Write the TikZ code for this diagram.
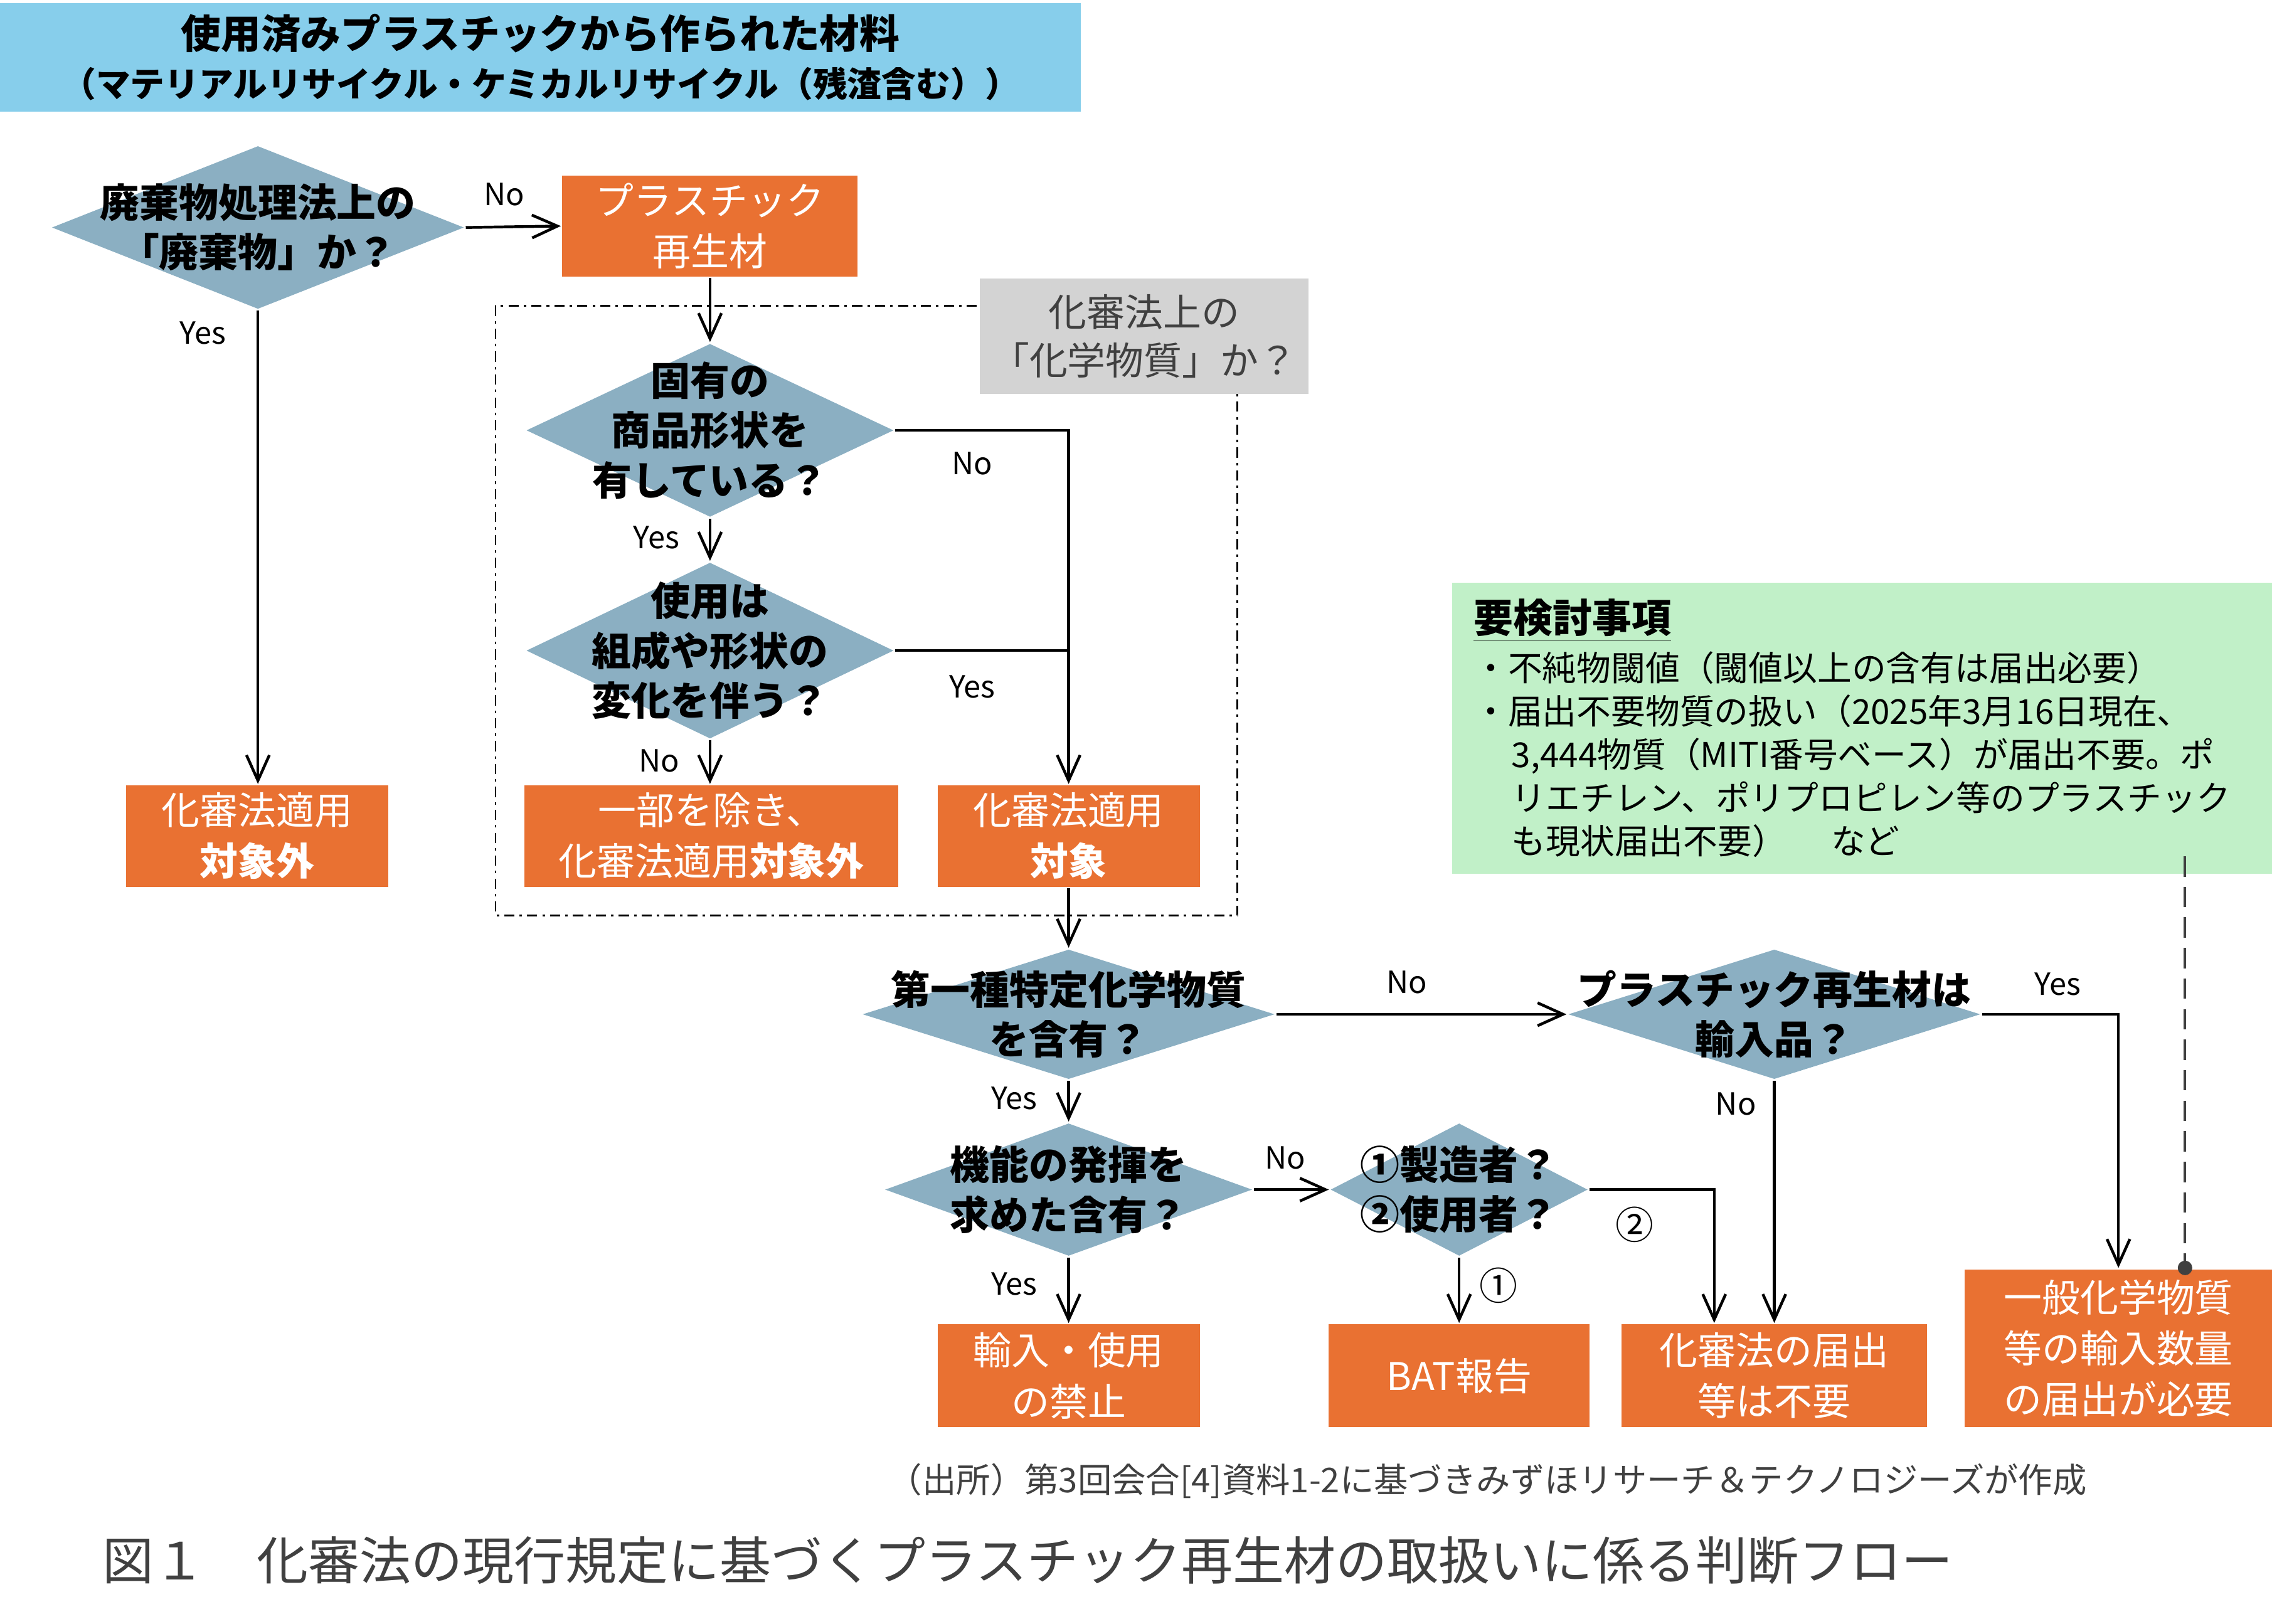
\documentclass[tikz,border=0pt]{standalone}
\usepackage{fontspec}
\setmainfont{Noto Sans CJK JP}
\usepackage{tikz}
\usetikzlibrary{shapes.geometric,arrows.meta}
\definecolor{hdrblue}{RGB}{135,206,235}
\definecolor{qblue}{RGB}{139,175,194}
\definecolor{ansorange}{RGB}{233,113,50}
\definecolor{qgray}{RGB}{211,211,211}
\definecolor{notegreen}{RGB}{193,240,200}
\definecolor{capgray}{RGB}{64,64,64}
\tikzset{
	qnode/.style = {diamond, fill=qblue, inner sep=0pt},% question
	qtext/.style = {align=center, inner sep=0pt, text=black,
		font=\bfseries\fontsize{15.5}{19.5}\selectfont},
	ans/.style = {rectangle, fill=ansorange, text=white, align=center,
		inner sep=0pt, font=\fontsize{15}{20}\selectfont},% resultat
	yn/.style = {inner sep=0pt, font=\fontsize{12}{14}\selectfont},% Yes / No
	frame/.style = {line width=0.7pt, dash pattern=on 4pt off 2pt on 1pt off 2pt}
}
\begin{document}
\begin{tikzpicture}[x=0.02cm, y=-0.02cm, line width=1.1pt,
	>={Straight Barb[length=10pt,width=9pt]}]
\useasboundingbox (0,0) rectangle (1568,1120.8);

\node [fill=hdrblue, minimum width=14.92cm, minimum height=1.5cm, align=center,
	inner sep=0pt, font=\bfseries\fontsize{15.7}{18}\selectfont] (hdr) at (373,39.5)
	{使用済みプラスチックから作られた材料\\[1pt]
	\fontsize{13.5}{16}\selectfont （マテリアルリサイクル・ケミカルリサイクル（残渣含む））};

\draw [frame] (342,211) rectangle (854,632);
\node [fill=qgray, minimum width=4.54cm, minimum height=1.6cm, align=center,
	inner sep=0pt, text=black!75, font=\fontsize{15}{19}\selectfont] (kagaku) at (789.5,232)
	{化審法上の\\「化学物質」か？};

\node [qnode, minimum width=5.7cm, minimum height=2.26cm,
	label={[qtext]center:廃棄物処理法上の\\「廃棄物」か？}] (d1) at (178,157) {};
\node [qnode, minimum width=5.08cm, minimum height=2.4cm,
	label={[qtext]center:固有の\\商品形状を\\有している？}] (d2) at (490,297) {};
\node [qnode, minimum width=5.08cm, minimum height=2.44cm,
	label={[qtext]center:使用は\\組成や形状の\\変化を伴う？}] (d3) at (490,449) {};
\node [qnode, minimum width=5.7cm, minimum height=1.8cm,
	label={[qtext]center:第一種特定化学物質\\を含有？}] (d4) at (737.5,700) {};
\node [qnode, minimum width=5.7cm, minimum height=1.8cm,
	label={[qtext]center:プラスチック再生材は\\輸入品？}] (d5) at (1224.5,700) {};
\node [qnode, minimum width=5.08cm, minimum height=1.84cm,
	label={[qtext]center:機能の発揮を\\求めた含有？}] (d6) at (737.5,821) {};
\node [qnode, minimum width=3.56cm, minimum height=1.84cm,
	label={[qtext]center:①製造者？\\②使用者？}] (d7) at (1007,821) {};

\node [ans, minimum width=4.08cm, minimum height=1.4cm] (b1) at (490,156) {プラスチック\\再生材};
\node [ans, minimum width=3.62cm, minimum height=1.4cm] (b2) at (177.5,577) {化審法適用\\\textbf{対象外}};
\node [ans, minimum width=5.16cm, minimum height=1.4cm] (b3) at (491,577) {一部を除き、\\化審法適用\textbf{対象外}};
\node [ans, minimum width=3.62cm, minimum height=1.4cm] (b4) at (737.5,577) {化審法適用\\\textbf{対象}};
\node [ans, minimum width=3.62cm, minimum height=1.42cm] (b5) at (737.5,949.5) {輸入・使用\\の禁止};
\node [ans, minimum width=3.6cm, minimum height=1.42cm] (b6) at (1007,949.5) {BAT報告};
\node [ans, minimum width=4.22cm, minimum height=1.42cm] (b7) at (1224.5,949.5) {化審法の届出\\等は不要};
\node [ans, minimum width=4.24cm, minimum height=2.18cm] (b8) at (1462,930.5) {一般化学物質\\等の輸入数量\\の届出が必要};

\node [fill=notegreen, minimum width=11.32cm, minimum height=4.02cm, text width=10.72cm,
	align=left, inner sep=0pt, font=\fontsize{13.5}{17}\selectfont] (note) at (1285,502.5)
	{{\bfseries\fontsize{15.5}{17}\selectfont\underline{要検討事項}}\\[2pt]
	・不純物閾値（閾値以上の含有は届出必要）\\
	・届出不要物質の扱い（2025年3月16日現在、\\
	\hspace*{1.1em}3,444物質（MITI番号ベース）が届出不要。ポ\\
	\hspace*{1.1em}リエチレン、ポリプロピレン等のプラスチック\\
	\hspace*{1.1em}も現状届出不要）\hspace{1.3em}など};

\draw [->] (d1.east) -- (b1.west);
\draw [->] (d1.south) -- (d1.south |- b2.north);
\draw [->] (b1.south) -- (d2.north);
\draw [->] (d2.south) -- (d3.north);
\draw [->] (d3.south) -- (d3.south |- b3.north);
\draw [->] (d2.east) -| (b4.north);
\draw (d3.east) -- (d3.east -| b4.north);
\draw [->] (b4.south) -- (d4.north);
\draw [->] (d4.east) -- (d5.west);
\draw [->] (d5.east) -| (b8.north);
\draw [->] (d5.south) -- (b7.north);
\draw [->] (d4.south) -- (d6.north);
\draw [->] (d6.east) -- (d7.west);
\draw [->] (d6.south) -- (b5.north);
\draw [->] (d7.south) -- (b6.north);
\draw [->] (d7.east) -| ([xshift=1.3cm]b7.north west);
\draw [capgray, line width=1pt, dash pattern=on 8pt off 4pt]
	([xshift=4.46cm,yshift=0.26cm]note.south) coordinate (nt) -- (nt |- b8.north) coordinate (nb);
\fill [capgray] (nb) circle [radius=0.1cm];

\node [yn] (n1) at (348,134) {No};
\node [yn] (y1) at (140,230) {Yes};
\node [yn] (n2) at (671,320) {No};
\node [yn] (y2) at (453,371) {Yes};
\node [yn] (y3) at (671,474) {Yes};
\node [yn] (n3) at (455,525) {No};
\node [yn] (n4) at (971,678) {No};
\node [yn] (y5) at (1420,679) {Yes};
\node [yn] (y4) at (700,758) {Yes};
\node [yn] (n5) at (1198,762) {No};
\node [yn] (n6) at (887,799) {No};
\node [yn] (y6) at (700,886) {Yes};
\node [inner sep=0pt, font=\fontsize{15}{18}\selectfont] (c2) at (1128,845) {②};
\node [inner sep=0pt, font=\fontsize{15}{18}\selectfont] (c1) at (1034,887) {①};

\node [anchor=west, inner sep=0pt, text=capgray, font=\fontsize{13.4}{15}\selectfont] (src) at (612,1022)
	{（出所）第3回会合[4]資料1-2に基づきみずほリサーチ＆テクノロジーズが作成};
\node [anchor=west, inner sep=0pt, text=capgray, font=\fontsize{20.2}{24}\selectfont] (cap) at (70,1077)
	{図１　化審法の現行規定に基づくプラスチック再生材の取扱いに係る判断フロー};
\end{tikzpicture}
\end{document}
